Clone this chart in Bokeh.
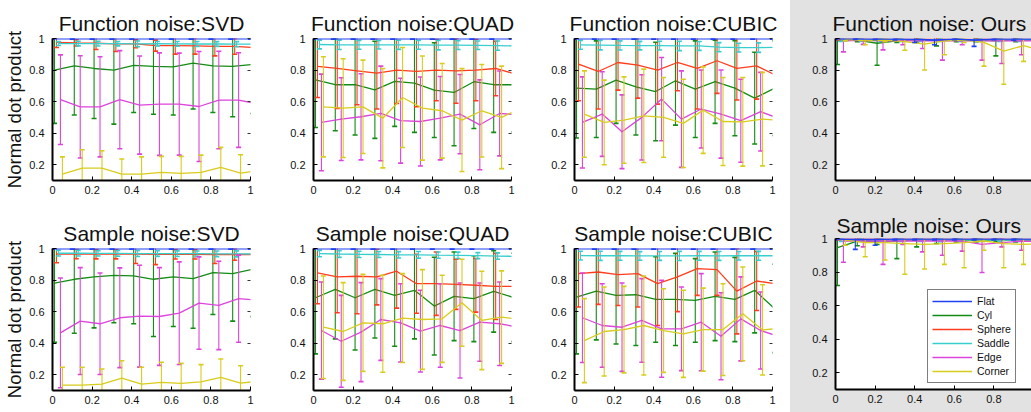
from bokeh.plotting import figure
from bokeh.layouts import row, column
from bokeh.models import (FixedTicker, NumeralTickFormatter, Legend, LegendItem,
                          LinearAxis, CustomJSTickFormatter, Range1d)
from bokeh.embed import file_html
from bokeh.resources import INLINE

# ---------------- data ----------------
NOISE = [0.0, 0.1, 0.2, 0.3, 0.4, 0.5, 0.6, 0.7, 0.8, 0.9, 1.0]
SERIES = ["Flat", "Cyl", "Sphere", "Saddle", "Edge", "Corner"]
SERIES_SHIFT = [0.0, 0.01, 0.02, 0.03, 0.04, 0.05]
X_TICKS = [0, 0.2, 0.4, 0.6, 0.8, 1.0]
Y_TICKS = [0.2, 0.4, 0.6, 0.8, 1.0]
TITLES = ["Function noise:SVD", "Function noise:QUAD", "Function noise:CUBIC", "Function noise: Ours",
          "Sample noise:SVD", "Sample noise:QUAD", "Sample noise:CUBIC", "Sample noise: Ours"]
Y_LABEL = "Normal dot product"

fn_svd_mean = {
    "Flat":   [0.998, 0.998, 0.998, 0.998, 0.998, 0.998, 0.998, 0.998, 0.998, 0.998, 0.998],
    "Cyl":    [0.800, 0.827, 0.810, 0.800, 0.830, 0.823, 0.820, 0.844, 0.827, 0.823, 0.835],
    "Sphere": [0.975, 0.972, 0.970, 0.966, 0.966, 0.955, 0.955, 0.953, 0.950, 0.950, 0.943],
    "Saddle": [0.968, 0.968, 0.967, 0.967, 0.966, 0.967, 0.966, 0.965, 0.965, 0.964, 0.964],
    "Edge":   [0.612, 0.567, 0.567, 0.612, 0.578, 0.584, 0.584, 0.569, 0.610, 0.610, 0.585],
    "Corner": [0.141, 0.179, 0.179, 0.141, 0.141, 0.151, 0.145, 0.151, 0.183, 0.147, 0.165],
}
fn_svd_std = {
    "Flat":   [0.002, 0.002, 0.002, 0.002, 0.002, 0.002, 0.002, 0.002, 0.002, 0.002, 0.002],
    "Cyl":    [0.338, 0.312, 0.317, 0.343, 0.299, 0.303, 0.305, 0.291, 0.296, 0.319, 0.310],
    "Sphere": [0.032, 0.020, 0.040, 0.048, 0.025, 0.035, 0.054, 0.052, 0.060, 0.050, 0.050],
    "Saddle": [0.012, 0.015, 0.015, 0.014, 0.018, 0.014, 0.015, 0.016, 0.015, 0.016, 0.015],
    "Edge":   [0.284, 0.324, 0.317, 0.311, 0.311, 0.325, 0.323, 0.349, 0.309, 0.300, 0.310],
    "Corner": [0.109, 0.116, 0.110, 0.095, 0.109, 0.102, 0.108, 0.110, 0.127, 0.116, 0.110],
}

fn_quad_mean = {
    "Flat":   [0.998, 0.998, 0.998, 0.998, 0.998, 0.998, 0.998, 0.998, 0.998, 0.998, 0.998],
    "Cyl":    [0.738, 0.707, 0.707, 0.675, 0.728, 0.717, 0.673, 0.658, 0.726, 0.707, 0.707],
    "Sphere": [0.823, 0.810, 0.795, 0.780, 0.800, 0.791, 0.800, 0.795, 0.800, 0.810, 0.775],
    "Saddle": [0.962, 0.960, 0.960, 0.960, 0.960, 0.960, 0.958, 0.958, 0.957, 0.955, 0.953],
    "Edge":   [0.468, 0.489, 0.504, 0.525, 0.479, 0.474, 0.495, 0.521, 0.453, 0.525, 0.515],
    "Corner": [0.567, 0.559, 0.567, 0.495, 0.626, 0.559, 0.542, 0.483, 0.542, 0.500, 0.560],
}
fn_quad_std = {
    "Flat":   [0.002, 0.002, 0.002, 0.002, 0.002, 0.002, 0.002, 0.002, 0.002, 0.002, 0.002],
    "Cyl":    [0.302, 0.292, 0.319, 0.308, 0.285, 0.312, 0.300, 0.338, 0.296, 0.302, 0.300],
    "Sphere": [0.197, 0.253, 0.215, 0.227, 0.212, 0.224, 0.195, 0.205, 0.195, 0.173, 0.200],
    "Saddle": [0.028, 0.030, 0.028, 0.027, 0.029, 0.028, 0.030, 0.028, 0.027, 0.029, 0.028],
    "Edge":   [0.306, 0.262, 0.273, 0.300, 0.269, 0.282, 0.264, 0.251, 0.285, 0.269, 0.270],
    "Corner": [0.317, 0.313, 0.296, 0.315, 0.317, 0.330, 0.300, 0.326, 0.293, 0.325, 0.310],
}

fn_cubic_mean = {
    "Flat":   [0.998, 0.998, 0.998, 0.998, 0.998, 0.998, 0.998, 0.998, 0.998, 0.998, 0.998],
    "Cyl":    [0.685, 0.679, 0.736, 0.694, 0.664, 0.732, 0.679, 0.726, 0.685, 0.622, 0.685],
    "Sphere": [0.837, 0.791, 0.848, 0.831, 0.800, 0.848, 0.810, 0.859, 0.810, 0.827, 0.765],
    "Saddle": [0.960, 0.958, 0.956, 0.955, 0.955, 0.953, 0.953, 0.945, 0.942, 0.942, 0.945],
    "Edge":   [0.468, 0.521, 0.409, 0.500, 0.616, 0.489, 0.553, 0.521, 0.479, 0.536, 0.490],
    "Corner": [0.521, 0.468, 0.483, 0.510, 0.500, 0.462, 0.546, 0.474, 0.472, 0.489, 0.480],
}
fn_cubic_std = {
    "Flat":   [0.002, 0.002, 0.002, 0.002, 0.002, 0.002, 0.002, 0.002, 0.002, 0.002, 0.002],
    "Cyl":    [0.316, 0.306, 0.274, 0.306, 0.312, 0.281, 0.306, 0.264, 0.301, 0.291, 0.300],
    "Sphere": [0.232, 0.238, 0.175, 0.209, 0.216, 0.179, 0.257, 0.207, 0.200, 0.211, 0.210],
    "Saddle": [0.028, 0.030, 0.029, 0.027, 0.028, 0.030, 0.028, 0.029, 0.028, 0.030, 0.028],
    "Edge":   [0.289, 0.268, 0.234, 0.270, 0.264, 0.306, 0.247, 0.279, 0.263, 0.249, 0.260],
    "Corner": [0.274, 0.268, 0.274, 0.296, 0.253, 0.280, 0.274, 0.279, 0.281, 0.296, 0.280],
}

fn_ours_mean = {
    "Flat":   [0.998, 0.998, 0.997, 0.997, 0.995, 0.990, 0.997, 0.990, 0.997, 0.997, 0.997],
    "Cyl":    [0.985, 0.990, 0.970, 0.985, 0.990, 0.988, 0.990, 0.990, 0.985, 0.990, 0.990],
    "Sphere": [0.996, 0.996, 0.996, 0.995, 0.996, 0.996, 0.995, 0.996, 0.996, 0.995, 0.996],
    "Saddle": [0.992, 0.992, 0.991, 0.992, 0.992, 0.991, 0.992, 0.992, 0.991, 0.992, 0.992],
    "Edge":   [0.985, 0.988, 0.985, 0.985, 0.985, 0.985, 0.985, 0.985, 0.985, 0.985, 0.985],
    "Corner": [0.995, 0.985, 0.990, 0.980, 0.965, 0.985, 0.990, 0.975, 0.920, 0.955, 0.920],
}
fn_ours_std = {
    "Flat":   [0.004, 0.004, 0.005, 0.006, 0.020, 0.030, 0.005, 0.040, 0.005, 0.008, 0.005],
    "Cyl":    [0.150, 0.010, 0.140, 0.010, 0.012, 0.035, 0.010, 0.010, 0.095, 0.010, 0.010],
    "Sphere": [0.006, 0.006, 0.006, 0.006, 0.006, 0.006, 0.006, 0.006, 0.006, 0.006, 0.006],
    "Saddle": [0.010, 0.010, 0.010, 0.010, 0.010, 0.010, 0.010, 0.010, 0.010, 0.010, 0.010],
    "Edge":   [0.070, 0.025, 0.057, 0.025, 0.048, 0.122, 0.025, 0.122, 0.143, 0.088, 0.080],
    "Corner": [0.010, 0.025, 0.010, 0.054, 0.165, 0.088, 0.015, 0.150, 0.210, 0.100, 0.100],
}

sn_svd_mean = {
    "Flat":   [0.998, 0.998, 0.998, 0.998, 0.998, 0.998, 0.998, 0.998, 0.998, 0.998, 0.998],
    "Cyl":    [0.781, 0.805, 0.820, 0.830, 0.826, 0.805, 0.820, 0.809, 0.847, 0.841, 0.868],
    "Sphere": [0.965, 0.965, 0.964, 0.964, 0.964, 0.963, 0.963, 0.963, 0.962, 0.962, 0.962],
    "Saddle": [0.970, 0.970, 0.969, 0.969, 0.968, 0.968, 0.967, 0.967, 0.966, 0.966, 0.965],
    "Edge":   [0.465, 0.540, 0.523, 0.561, 0.571, 0.569, 0.590, 0.654, 0.639, 0.682, 0.672],
    "Corner": [0.134, 0.134, 0.140, 0.179, 0.140, 0.151, 0.145, 0.155, 0.183, 0.147, 0.160],
}
sn_svd_std = {
    "Flat":   [0.002, 0.002, 0.002, 0.002, 0.002, 0.002, 0.002, 0.002, 0.002, 0.002, 0.002],
    "Cyl":    [0.375, 0.342, 0.323, 0.301, 0.303, 0.363, 0.314, 0.314, 0.265, 0.301, 0.300],
    "Sphere": [0.055, 0.030, 0.030, 0.030, 0.059, 0.065, 0.030, 0.030, 0.057, 0.036, 0.040],
    "Saddle": [0.018, 0.018, 0.017, 0.018, 0.019, 0.018, 0.018, 0.017, 0.018, 0.019, 0.018],
    "Edge":   [0.348, 0.339, 0.322, 0.316, 0.323, 0.310, 0.325, 0.293, 0.280, 0.276, 0.280],
    "Corner": [0.113, 0.113, 0.096, 0.110, 0.107, 0.128, 0.127, 0.109, 0.117, 0.110, 0.110],
}

sn_quad_mean = {
    "Flat":   [0.998, 0.998, 0.998, 0.998, 0.998, 0.998, 0.998, 0.998, 0.998, 0.998, 0.998],
    "Cyl":    [0.688, 0.741, 0.688, 0.741, 0.703, 0.735, 0.635, 0.697, 0.682, 0.728, 0.690],
    "Sphere": [0.845, 0.820, 0.824, 0.820, 0.856, 0.777, 0.777, 0.773, 0.767, 0.760, 0.760],
    "Saddle": [0.968, 0.965, 0.963, 0.962, 0.960, 0.960, 0.958, 0.957, 0.955, 0.952, 0.950],
    "Edge":   [0.480, 0.412, 0.470, 0.550, 0.529, 0.476, 0.512, 0.480, 0.533, 0.523, 0.500],
    "Corner": [0.501, 0.474, 0.529, 0.523, 0.559, 0.550, 0.554, 0.656, 0.544, 0.565, 0.550],
}
sn_quad_std = {
    "Flat":   [0.002, 0.002, 0.002, 0.002, 0.002, 0.002, 0.002, 0.002, 0.002, 0.002, 0.002],
    "Cyl":    [0.356, 0.314, 0.331, 0.308, 0.323, 0.308, 0.310, 0.281, 0.272, 0.258, 0.280],
    "Sphere": [0.195, 0.227, 0.238, 0.177, 0.234, 0.187, 0.201, 0.159, 0.170, 0.210, 0.200],
    "Saddle": [0.020, 0.021, 0.020, 0.019, 0.020, 0.021, 0.020, 0.020, 0.019, 0.020, 0.020],
    "Edge":   [0.308, 0.291, 0.314, 0.259, 0.248, 0.259, 0.265, 0.301, 0.248, 0.265, 0.270],
    "Corner": [0.325, 0.310, 0.308, 0.307, 0.282, 0.316, 0.276, 0.276, 0.312, 0.293, 0.300],
}

sn_cubic_mean = {
    "Flat":   [0.998, 0.998, 0.998, 0.998, 0.998, 0.998, 0.998, 0.998, 0.998, 0.998, 0.998],
    "Cyl":    [0.692, 0.730, 0.703, 0.707, 0.677, 0.677, 0.671, 0.697, 0.677, 0.735, 0.620],
    "Sphere": [0.841, 0.851, 0.834, 0.841, 0.777, 0.820, 0.873, 0.866, 0.730, 0.794, 0.776],
    "Saddle": [0.955, 0.954, 0.954, 0.953, 0.953, 0.953, 0.954, 0.953, 0.954, 0.954, 0.954],
    "Edge":   [0.561, 0.512, 0.501, 0.544, 0.491, 0.491, 0.533, 0.444, 0.554, 0.480, 0.440],
    "Corner": [0.416, 0.474, 0.486, 0.512, 0.480, 0.459, 0.486, 0.486, 0.586, 0.484, 0.495],
}
sn_cubic_std = {
    "Flat":   [0.002, 0.002, 0.002, 0.002, 0.002, 0.002, 0.002, 0.002, 0.002, 0.002, 0.002],
    "Cyl":    [0.360, 0.309, 0.308, 0.322, 0.271, 0.292, 0.265, 0.281, 0.267, 0.270, 0.280],
    "Sphere": [0.212, 0.205, 0.195, 0.212, 0.265, 0.220, 0.170, 0.163, 0.271, 0.187, 0.200],
    "Saddle": [0.028, 0.029, 0.028, 0.027, 0.028, 0.029, 0.028, 0.028, 0.027, 0.028, 0.028],
    "Edge":   [0.284, 0.265, 0.280, 0.265, 0.307, 0.265, 0.308, 0.276, 0.266, 0.244, 0.260],
    "Corner": [0.266, 0.282, 0.274, 0.314, 0.265, 0.276, 0.263, 0.291, 0.297, 0.286, 0.280],
}

sn_ours_mean = {
    "Flat":   [0.998, 0.995, 0.995, 0.997, 0.997, 0.997, 0.997, 0.997, 0.997, 0.997, 0.997],
    "Cyl":    [0.945, 0.985, 0.985, 0.985, 0.990, 0.990, 0.990, 0.990, 0.990, 0.990, 0.990],
    "Sphere": [0.997, 0.997, 0.997, 0.996, 0.997, 0.997, 0.996, 0.997, 0.997, 0.996, 0.997],
    "Saddle": [0.992, 0.992, 0.991, 0.992, 0.992, 0.991, 0.992, 0.992, 0.991, 0.992, 0.992],
    "Edge":   [0.985, 0.985, 0.985, 0.985, 0.985, 0.985, 0.985, 0.965, 0.975, 0.985, 0.980],
    "Corner": [0.990, 0.975, 0.975, 0.970, 0.965, 0.970, 0.975, 0.985, 0.970, 0.965, 0.970],
}
sn_ours_std = {
    "Flat":   [0.005, 0.060, 0.035, 0.005, 0.005, 0.005, 0.005, 0.005, 0.005, 0.005, 0.005],
    "Cyl":    [0.225, 0.028, 0.021, 0.105, 0.040, 0.020, 0.010, 0.010, 0.010, 0.010, 0.010],
    "Sphere": [0.005, 0.005, 0.005, 0.005, 0.005, 0.005, 0.005, 0.005, 0.005, 0.005, 0.005],
    "Saddle": [0.010, 0.010, 0.010, 0.010, 0.010, 0.010, 0.010, 0.010, 0.010, 0.010, 0.010],
    "Edge":   [0.127, 0.035, 0.139, 0.020, 0.065, 0.085, 0.060, 0.168, 0.025, 0.055, 0.050],
    "Corner": [0.030, 0.084, 0.103, 0.183, 0.147, 0.124, 0.149, 0.055, 0.144, 0.119, 0.100],
}

# ---------------- style ----------------
COLORS = {"Flat": "#2040f4", "Cyl": "#138c13", "Sphere": "#ff3c1c",
          "Saddle": "#38cece", "Edge": "#dc44dc", "Corner": "#d8cc1c"}
FONT = "Liberation Sans"
GRAY = "#e2e2e2"
DRAW_ORDER = ["Cyl", "Sphere", "Saddle", "Edge", "Corner", "Flat"]


def panel(title, mean, std, fw, fh, bl, br, bt, bb, xend, ylabel=False,
          gray=False, legend=False, title_align="center", title_offset=0,
          title_standoff=7, right_ticks=True):
    p = figure(frame_width=fw, frame_height=fh,
               x_range=Range1d(0, xend), y_range=Range1d(0.1, 1.0),
               output_backend="svg", toolbar_location=None,
               min_border_left=bl, min_border_right=br,
               min_border_top=bt, min_border_bottom=bb, title=title)
    p.title.text_font = FONT
    p.title.text_font_size = "21px"
    p.title.text_font_style = "normal"
    p.title.text_color = "#111111"
    p.title.align = title_align
    p.title.offset = title_offset
    p.title.standoff = title_standoff
    p.grid.visible = False
    p.outline_line_color = None
    p.background_fill_color = "white"
    p.border_fill_color = GRAY if gray else "white"

    for ax in (p.xaxis[0], p.yaxis[0]):
        ax.axis_line_color = "black"
        ax.axis_line_width = 2
        ax.major_tick_in = 4
        ax.major_tick_out = 0
        ax.major_tick_line_color = "black"
        ax.minor_tick_line_color = None
        ax.major_label_text_font = FONT
        ax.major_label_text_font_size = "11px"
        ax.major_label_text_color = "#111111"
        ax.formatter = NumeralTickFormatter(format="0.[0]")
    p.xaxis[0].ticker = FixedTicker(ticks=X_TICKS)
    p.yaxis[0].ticker = FixedTicker(ticks=Y_TICKS)
    p.xaxis[0].major_label_standoff = 5
    p.yaxis[0].major_label_standoff = 8
    if ylabel:
        p.yaxis[0].axis_label = Y_LABEL
        p.yaxis[0].axis_label_text_font = FONT
        p.yaxis[0].axis_label_text_font_size = "18.5px"
        p.yaxis[0].axis_label_text_font_style = "normal"
        p.yaxis[0].axis_label_text_color = "#111111"
        p.yaxis[0].axis_label_standoff = 1

    if right_ticks:
        rax = LinearAxis(ticker=FixedTicker(ticks=Y_TICKS),
                         formatter=CustomJSTickFormatter(code="return ''"),
                         axis_line_color=None, major_tick_in=3, major_tick_out=0,
                         major_tick_line_color="#333333", minor_tick_line_color=None,
                         major_label_standoff=0, major_label_text_font_size="1px")
        p.add_layout(rax, "right")

    lines = {}
    for name in DRAW_ORDER:
        k = SERIES.index(name)
        xs = [n + SERIES_SHIFT[k] for n in NOISE]
        m = mean[name]
        s = std[name]
        lo = [a - b for a, b in zip(m, s)]
        hi = [a + b for a, b in zip(m, s)]
        c = COLORS[name]
        p.segment(xs, lo, xs, hi, line_color=c, line_width=1.1)
        p.dash(xs, lo, size=5, line_color=c, line_width=1.6, angle=0)
        p.dash(xs, hi, size=5, line_color=c, line_width=1.6, angle=0)
        lines[name] = p.line(xs, m, line_color=c, line_width=1.6 if name == "Flat" else 1.3)

    if legend:
        leg = Legend(items=[LegendItem(label=n, renderers=[lines[n]]) for n in SERIES],
                     location=(92, 6))
        leg.border_line_color = "black"
        leg.border_line_width = 1.5
        leg.background_fill_color = "white"
        leg.background_fill_alpha = 1.0
        leg.label_text_font = FONT
        leg.label_text_font_size = "10.5px"
        leg.label_text_color = "#111111"
        leg.glyph_width = 40
        leg.glyph_height = 14
        leg.label_height = 14
        leg.spacing = 0
        leg.padding = 4
        leg.margin = 0
        leg.label_standoff = 5
        p.add_layout(leg)
    return p


p1 = panel(TITLES[0], fn_svd_mean, fn_svd_std, 198, 142, 52, 12, 38, 30, 1.0, ylabel=True)
p2 = panel(TITLES[1], fn_quad_mean, fn_quad_std, 198, 142, 51, 11, 38, 30, 1.0)
p3 = panel(TITLES[2], fn_cubic_mean, fn_cubic_std, 198, 142, 52, 18, 38, 30, 1.0)
p4 = panel(TITLES[3], fn_ours_mean, fn_ours_std, 196, 142, 45, 0, 38, 30, 0.99,
           gray=True, title_align="left", title_offset=-3, right_ticks=False)
p5 = panel(TITLES[4], sn_svd_mean, sn_svd_std, 198, 142, 52, 12, 38, 22, 1.0, ylabel=True)
p6 = panel(TITLES[5], sn_quad_mean, sn_quad_std, 198, 142, 51, 11, 38, 22, 1.0)
p7 = panel(TITLES[6], sn_cubic_mean, sn_cubic_std, 198, 142, 52, 18, 38, 22, 1.0)
p8 = panel(TITLES[7], sn_ours_mean, sn_ours_std, 196, 151, 45, 0, 28, 23, 0.99,
           gray=True, legend=True, title_align="left", title_offset=1,
           title_standoff=3, right_ticks=False)

layout = row(column(p1, p5), column(p2, p6), column(p3, p7),
             column(p4, p8, styles={"background-color": GRAY}))
open("out.html", "w").write(file_html(layout, INLINE))
